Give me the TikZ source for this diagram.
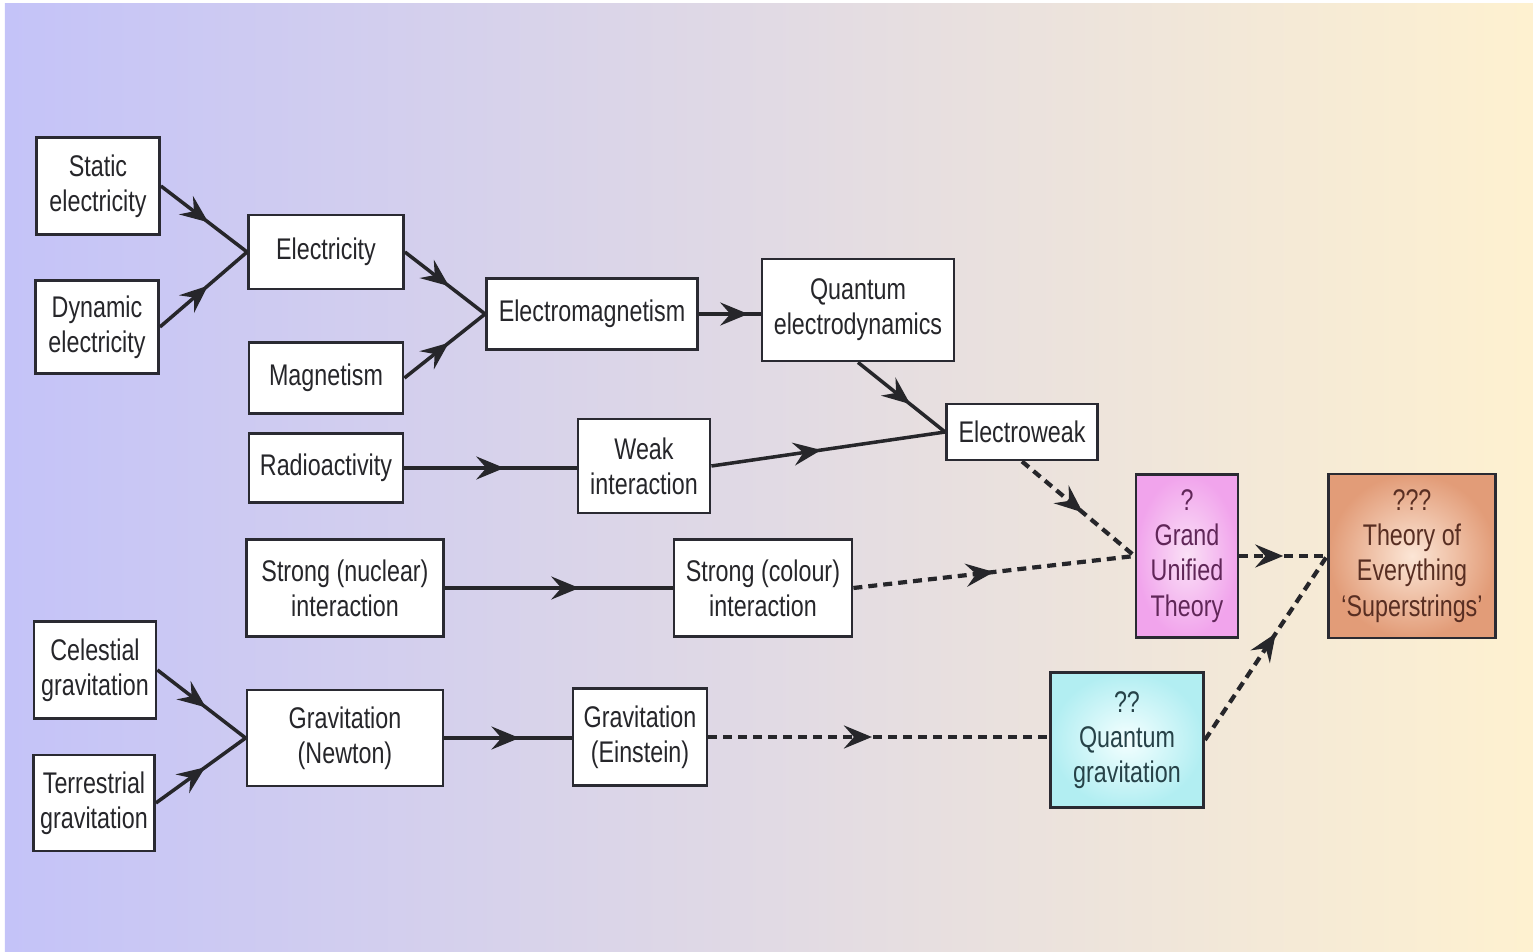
\documentclass[tikz,border=0pt]{standalone}
\usepackage{fontspec}
\setmainfont{Liberation Sans}[FakeStretch=0.78]
\usetikzlibrary{positioning,arrows.meta,decorations.markings}

\definecolor{bgleft}{RGB}{196,195,248}
\definecolor{bgright}{RGB}{254,241,208}
\definecolor{boxline}{RGB}{42,42,50}
\definecolor{linegray}{RGB}{38,38,42}
\definecolor{textgray}{RGB}{38,38,42}

\begin{document}
\begin{tikzpicture}[x=0.1mm, y=-0.1mm,
	box/.style={rectangle, draw=boxline, line width=0.8pt, fill=white, align=center, inner sep=0pt, text=textgray, font=\fontsize{8.5}{10}\selectfont},
	midarrow/.style={postaction={decorate}, decoration={markings, mark=at position #1 with {\arrow{Stealth[length=2.8mm, width=2.3mm, inset=1mm]}}}},
	midarrow/.default=0.55,
	link/.style={draw=linegray, line width=1pt, midarrow=#1},
	link/.default=0.55,
	dlink/.style={link=#1, line width=1.2pt, dash pattern=on 0.9mm off 0.6mm},
	dlink/.default=0.55]

	% background
	\fill[white] (0,0) rectangle (1533,952);
	\shade[left color=bgleft, right color=bgright] (5,4) rectangle (1533,952);

	\node[box, minimum width=12.3mm, minimum height=9.7mm] (static) at (98,186) {Static\\electricity};
	\node[box, minimum width=12.3mm, minimum height=9.3mm] (dynamic) at (97,327) {Dynamic\\electricity};
	\node[box, minimum width=15.5mm, minimum height=7.4mm] (elec) at (326,252) {Electricity};
	\node[box, minimum width=15.4mm, minimum height=7.1mm] (magn) at (326,378) {Magnetism};
	\node[box, minimum width=21.1mm, minimum height=7.1mm] (em) at (592,314) {Electromagnetism};
	\node[box, minimum width=19.2mm, minimum height=10.2mm] (qed) at (858,310) {Quantum\\electrodynamics};
	\node[box, minimum width=15.4mm, minimum height=6.9mm] (radio) at (326,468) {Radioactivity};
	\node[box, minimum width=13.2mm, minimum height=9.4mm] (weak) at (644,466) {Weak\\interaction};
	\node[box, minimum width=15.1mm, minimum height=5.6mm] (ew) at (1022,432) {Electroweak};
	\node[box, minimum width=19.7mm, minimum height=9.7mm] (snuc) at (345,588) {Strong (nuclear)\\interaction};
	\node[box, minimum width=17.8mm, minimum height=9.7mm] (scol) at (763,588) {Strong (colour)\\interaction};
	\node[box, minimum width=12.2mm, minimum height=9.7mm] (cel) at (95,670) {Celestial\\gravitation};
	\node[box, minimum width=12.1mm, minimum height=9.6mm] (ter) at (94,803) {Terrestrial\\gravitation};
	\node[box, minimum width=19.6mm, minimum height=9.6mm] (newton) at (345,738) {Gravitation\\(Newton)};
	\node[box, minimum width=13.4mm, minimum height=9.7mm] (einstein) at (640,737) {Gravitation\\(Einstein)};
	\node[box, minimum width=10.2mm, minimum height=16.3mm, inner color={rgb,255:red,250;green,224;blue,246}, outer color={rgb,255:red,241;green,164;blue,236}, text={rgb,255:red,96;green,38;blue,88}] (gut) at (1187,556) {?\\Grand\\Unified\\Theory};
	\node[box, minimum width=16.7mm, minimum height=16.4mm, inner color={rgb,255:red,252;green,230;blue,214}, outer color={rgb,255:red,226;green,156;blue,120}, text={rgb,255:red,88;green,46;blue,34}] (toe) at (1412,556) {???\\Theory of\\Everything\\`Superstrings'};
	\node[box, minimum width=15.3mm, minimum height=13.5mm, inner color={rgb,255:red,244;green,255;blue,255}, outer color={rgb,255:red,178;green,238;blue,242}, text={rgb,255:red,38;green,66;blue,72}] (qg) at (1127,740) {??\\Quantum\\gravitation};

	\draw[link] (static.east) -- (elec.west);
	\draw[link] (dynamic.east) -- (elec.west);
	\draw[link] (elec.east) -- (em.west);
	\draw[link] (magn.east) -- (em.west);
	\draw[link=0.8] (em.east) -- (em.east -| qed.west);
	\draw[link=0.6] (qed.south) -- (ew.west);
	\draw[link=0.58] (radio.east) -- (radio.east -| weak.west);
	\draw[link=0.47] (weak.east) -- (ew.west);
	\draw[link=0.59] (snuc.east) -- (scol.west);
	\draw[link] (cel.east) -- (newton.west);
	\draw[link] (ter.east) -- (newton.west);
	\draw[link=0.59] (newton.east) -- (newton.east -| einstein.west);
	\draw[dlink=0.54] (ew.south) -- (gut.west);
	\draw[dlink=0.5] (scol.east) -- (gut.west);
	\draw[dlink=0.5] (gut.east) -- (toe.west);
	\draw[dlink=0.48] (einstein.east) -- (einstein.east -| qg.west);
	\draw[dlink=0.58] (qg.east) -- (toe.west);
\end{tikzpicture}
\end{document}
